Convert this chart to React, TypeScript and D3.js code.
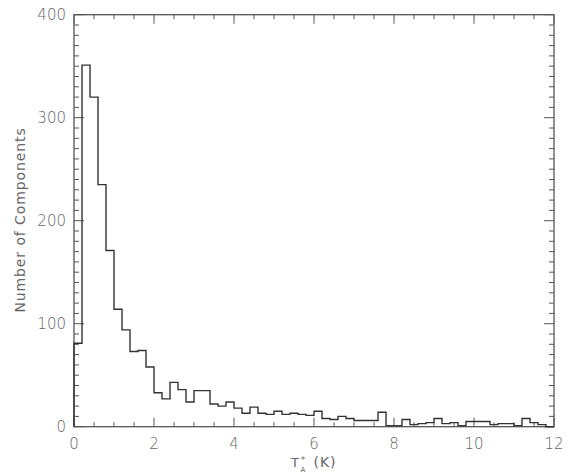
import React from "react";
import * as d3 from "d3";

const binStarts = d3.range(0, 60).map((i) => +(i * 0.2).toFixed(1));
const counts = [
  81, 351, 320, 235, 171, 114, 94, 73, 74, 58,
  33, 27, 43, 36, 24, 35, 35, 22, 20, 24,
  18, 13, 19, 13, 12, 15, 12, 13, 12, 11,
  15, 8, 7, 10, 8, 6, 6, 6, 14, 1,
  1, 7, 2, 3, 4, 8, 3, 4, 1, 5,
  5, 5, 2, 3, 3, 1, 8, 4, 2, 0,
];
const binWidth = 0.2;
const xTicks = [0, 2, 4, 6, 8, 10, 12];
const yTicks = [0, 100, 200, 300, 400];

export default function App() {
  const W = 570, H = 474;
  const left = 74, right = 554, top = 14.7, bottom = 426.7;
  const x = d3.scaleLinear().domain([0, 12]).range([left, right]);
  const y = d3.scaleLinear().domain([0, 400]).range([bottom, top]);
  const axisColor = "#555";
  const textColor = "#666";
  const font = "'DejaVu Sans', sans-serif";

  const pts: [number, number][] = [[x(0), y(0)]];
  binStarts.forEach((b, i) => {
    pts.push([x(b), y(counts[i])]);
    pts.push([x(b + binWidth), y(counts[i])]);
  });
  const path = d3.line()(pts) as string;

  const xMinor = d3.range(0, 12.0001, 0.5);
  const yMinor = d3.range(0, 400.0001, 10);

  return (
    <svg width={W} height={H} style={{ position: "absolute", left: 0, top: 0, background: "#fff" }}>
      <rect x={left} y={top} width={right - left} height={bottom - top} fill="none" stroke={axisColor} strokeWidth={1.3} />
      {xMinor.map((v) => {
        const major = Math.abs(v % 2) < 1e-6;
        const len = major ? 9 : 4.5;
        return (
          <g key={"xt" + v}>
            <line x1={x(v)} x2={x(v)} y1={bottom} y2={bottom - len} stroke={axisColor} strokeWidth={1} />
            <line x1={x(v)} x2={x(v)} y1={top} y2={top + len} stroke={axisColor} strokeWidth={1} />
          </g>
        );
      })}
      {yMinor.map((v) => {
        const major = Math.abs(v % 100) < 1e-6;
        const len = major ? 10 : 5;
        return (
          <g key={"yt" + v}>
            <line x1={left} x2={left + len} y1={y(v)} y2={y(v)} stroke={axisColor} strokeWidth={1} />
            <line x1={right} x2={right - len} y1={y(v)} y2={y(v)} stroke={axisColor} strokeWidth={1} />
          </g>
        );
      })}
      {xTicks.map((v) => (
        <text key={"xl" + v} x={x(v)} y={449} textAnchor="middle" fontFamily={font} fontSize={15} fill={textColor} fontWeight={300}>
          {v}
        </text>
      ))}
      {yTicks.map((v) => (
        <text key={"yl" + v} x={66} y={y(v) + 5.5} textAnchor="end" fontFamily={font} fontSize={15} fill={textColor} fontWeight={300}>
          {v}
        </text>
      ))}
      <path d={path} fill="none" stroke="#333" strokeWidth={1.4} />
      <text x={295} y={467} textAnchor="middle" fontFamily={font} fontSize={13} fill={textColor}>T</text>
      <text x={303} y={463} textAnchor="middle" fontFamily={font} fontSize={9} fill={textColor}>*</text>
      <text x={303} y={472} textAnchor="middle" fontFamily={font} fontSize={7} fill={textColor}>A</text>
      <text x={325} y={467} textAnchor="middle" fontFamily={font} fontSize={14} fill={textColor} letterSpacing={1}>(K)</text>
      <text transform={`translate(25, 220) rotate(-90)`} textAnchor="middle" fontFamily={font} fontSize={14} fill={textColor} letterSpacing={0.9}>
        Number of Components
      </text>
    </svg>
  );
}
